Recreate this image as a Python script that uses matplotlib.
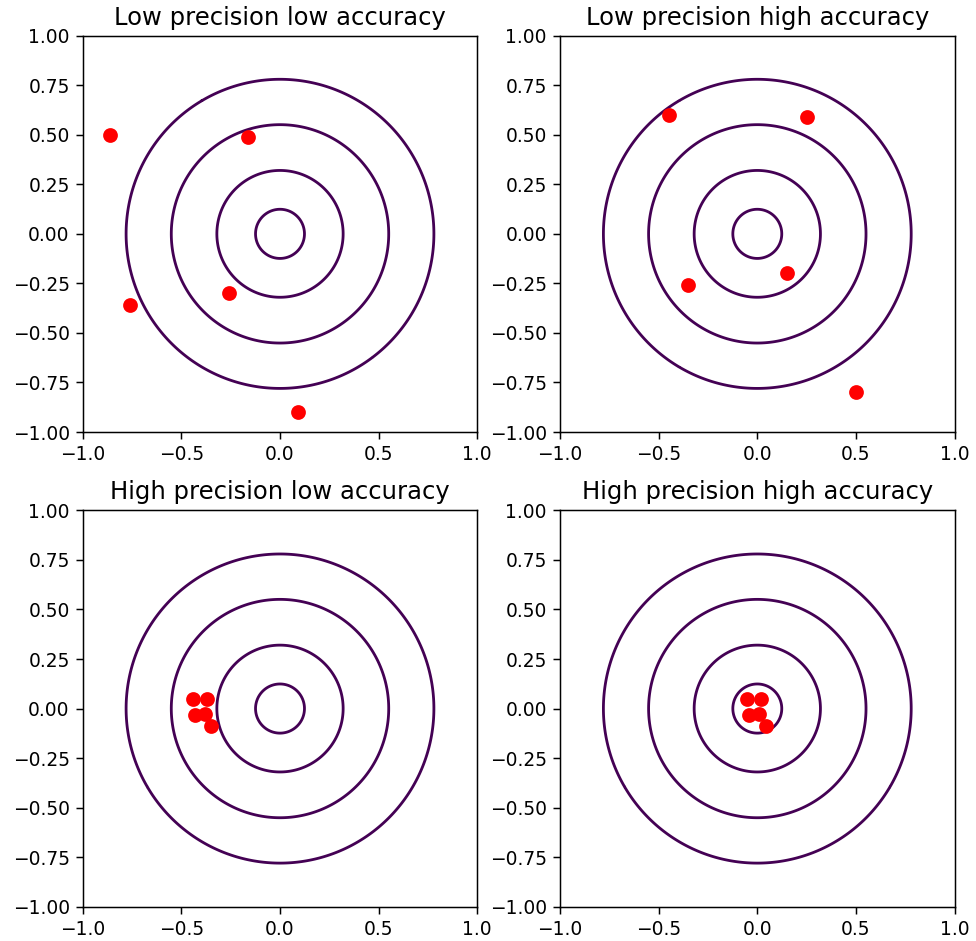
import numpy as np
import matplotlib
matplotlib.use("Agg")
import matplotlib.pyplot as plt

# radius of each ring on the target
ring_levels = [0.124, 0.32, 0.551, 0.78]

titles = ["Low precision low accuracy", "Low precision high accuracy",
          "High precision low accuracy", "High precision high accuracy"]

# shots for each target
x_lpla = [-0.86, -0.16, -0.76, -0.26, 0.09]
y_lpla = [0.50, 0.49, -0.36, -0.30, -0.90]

x_lpha = [-0.45, 0.25, -0.35, 0.15, 0.50]
y_lpha = [0.60, 0.59, -0.26, -0.20, -0.80]

x_hpla = [-0.44, -0.37, -0.43, -0.38, -0.35]
y_hpla = [0.05, 0.05, -0.035, -0.03, -0.09]

x_hpha = [-0.05, 0.02, -0.04, 0.01, 0.045]
y_hpha = [0.05, 0.05, -0.035, -0.03, -0.09]

shots = [(x_lpla, y_lpla), (x_lpha, y_lpha), (x_hpla, y_hpla), (x_hpha, y_hpha)]

xticks = [-1.0, -0.5, 0.0, 0.5, 1.0]
yticks = [-1.0, -0.75, -0.5, -0.25, 0.0, 0.25, 0.5, 0.75, 1.0]

dpi = 134
W, H = 976, 941
fig = plt.figure(figsize=(W / dpi, H / dpi), dpi=dpi)

# axes boxes in pixels (left, top)
aw, ah = 394.6, 396.3
boxes = [(82.7, 35.7), (560.0, 35.7), (82.7, 510.4), (560.0, 510.4)]

g = np.linspace(-1, 1, 501)
X, Y = np.meshgrid(g, g)
R = np.sqrt(X ** 2 + Y ** 2)

for i in range(4):
    left, top = boxes[i]
    ax = fig.add_axes([left / W, (H - top - ah) / H, aw / W, ah / H])
    ax.contour(X, Y, R, levels=ring_levels, colors="#440154", linewidths=1.5)
    ax.scatter(shots[i][0], shots[i][1], color="red", s=48, zorder=3)
    ax.set_xlim(-1, 1)
    ax.set_ylim(-1, 1)
    ax.set_xticks(xticks)
    ax.set_yticks(yticks)
    ax.set_title(titles[i], fontsize=13)

fig.savefig("out.png", dpi=dpi)
